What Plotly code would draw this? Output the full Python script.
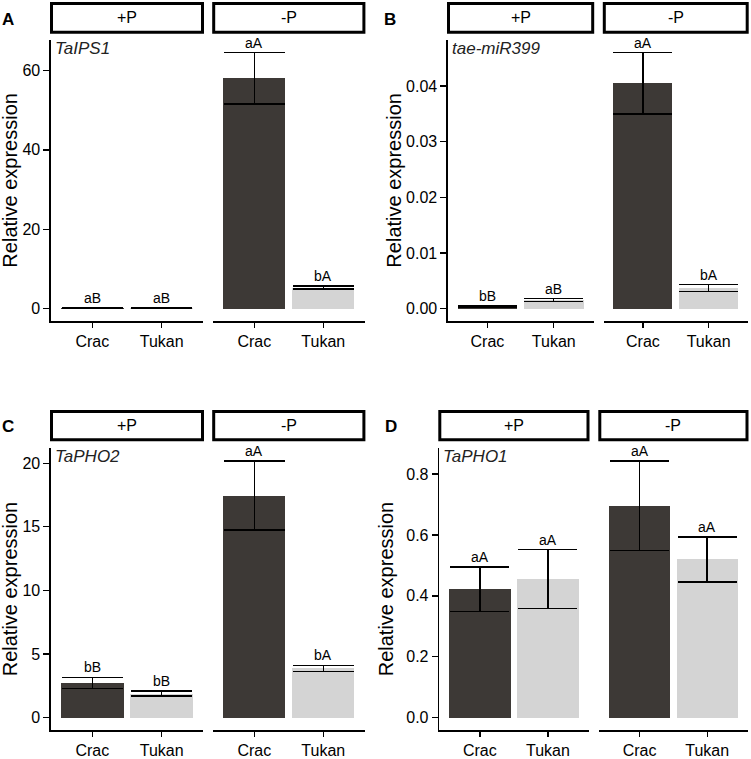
import plotly.graph_objects as go

# ---------------- data ----------------
cultivars = ["Crac", "Tukan"]
conditions = ["+P", "-P"]
genes = ["TaIPS1", "tae-miR399", "TaPHO2", "TaPHO1"]
panel_letters = ["A", "B", "C", "D"]

ips1_plus_mean = [0.10, 0.12]
ips1_plus_sd = [0.03, 0.03]
ips1_plus_lab = ["aB", "aB"]
ips1_minus_mean = [58.0, 5.3]
ips1_minus_sd = [6.5, 0.35]
ips1_minus_lab = ["aA", "bA"]

mir399_plus_mean = [0.0004, 0.00155]
mir399_plus_sd = [0.0001, 0.00025]
mir399_plus_lab = ["bB", "aB"]
mir399_minus_mean = [0.0405, 0.0037]
mir399_minus_sd = [0.0055, 0.0006]
mir399_minus_lab = ["aA", "bA"]

pho2_plus_mean = [2.73, 1.88]
pho2_plus_sd = [0.44, 0.20]
pho2_plus_lab = ["bB", "bB"]
pho2_minus_mean = [17.45, 3.86]
pho2_minus_sd = [2.72, 0.25]
pho2_minus_lab = ["aA", "bA"]

pho1_plus_mean = [0.422, 0.455]
pho1_plus_sd = [0.073, 0.097]
pho1_plus_lab = ["aA", "aA"]
pho1_minus_mean = [0.696, 0.520]
pho1_minus_sd = [0.147, 0.074]
pho1_minus_lab = ["aA", "aA"]

y_ticks = {
    "TaIPS1": [0, 20, 40, 60],
    "tae-miR399": [0.00, 0.01, 0.02, 0.03, 0.04],
    "TaPHO2": [0, 5, 10, 15, 20],
    "TaPHO1": [0.0, 0.2, 0.4, 0.6, 0.8],
}
y_tickfmt = {"TaIPS1": "d", "tae-miR399": ".2f", "TaPHO2": "d", "TaPHO1": ".1f"}

panels = [
    ("TaIPS1", [(ips1_plus_mean, ips1_plus_sd, ips1_plus_lab), (ips1_minus_mean, ips1_minus_sd, ips1_minus_lab)]),
    ("tae-miR399", [(mir399_plus_mean, mir399_plus_sd, mir399_plus_lab), (mir399_minus_mean, mir399_minus_sd, mir399_minus_lab)]),
    ("TaPHO2", [(pho2_plus_mean, pho2_plus_sd, pho2_plus_lab), (pho2_minus_mean, pho2_minus_sd, pho2_minus_lab)]),
    ("TaPHO1", [(pho1_plus_mean, pho1_plus_sd, pho1_plus_lab), (pho1_minus_mean, pho1_minus_sd, pho1_minus_lab)]),
]

bar_colors = ["#3d3936", "#d4d4d4"]

# ---------------- layout geometry (pixels) ----------------
W, H = 751, 759
FONT = "Liberation Sans, Arial, Helvetica, sans-serif"

def fx(px):
    return px / W

def fy(py):
    return 1 - py / H

facet_x = [
    ((50.7, 203.3), (212.9, 364.7)),
    ((447.7, 593.5), (603.5, 748.0)),
    ((50.7, 203.3), (212.9, 364.7)),
    ((439.0, 588.8), (599.0, 747.8)),
]
plot_y = [(40, 322.7), (40, 322.7), (450, 733.3), (450, 733.3)]
strip_y = [(3.5, 32.5), (3.5, 32.5), (413.2, 441.5), (413.2, 441.5)]
letter_pos = [(8, 20), (390, 20), (8, 428), (391, 428)]
ytitle_x = [10, 394, 10, 386]

fig = go.Figure()
layout = dict(
    width=W, height=H,
    margin=dict(l=0, r=0, t=0, b=0),
    paper_bgcolor="white", plot_bgcolor="white",
    showlegend=False, bargap=0,
    font=dict(family=FONT, color="black"),
)
annotations = []
shapes = []

ax = 0
for p, (gene, facets) in enumerate(panels):
    ymax = max(max(m + s for m, s in zip(mean, sd)) for mean, sd, _ in facets)
    yrange = [-0.05 * ymax, 1.05 * ymax]
    for f, (mean, sd, lab) in enumerate(facets):
        ax += 1
        xa = "x" if ax == 1 else f"x{ax}"
        ya = "y" if ax == 1 else f"y{ax}"
        x0, x1 = facet_x[p][f]
        t, b = plot_y[p]
        fig.add_trace(go.Bar(
            x=cultivars, y=mean, width=0.9,
            marker=dict(color=bar_colors, line=dict(width=0)),
            error_y=dict(type="data", array=sd, color="black", thickness=1.5,
                         width=30.5 if p in (0, 2) else 29.5),
            xaxis=xa, yaxis=ya, hoverinfo="skip",
        ))
        layout["xaxis" if ax == 1 else f"xaxis{ax}"] = dict(
            domain=[fx(x0), fx(x1)], anchor=ya, type="category",
            range=[-0.6, 1.6], showline=True, linecolor="black", linewidth=1.3,
            ticks="outside", ticklen=5, tickwidth=1.3, tickcolor="black",
            tickfont=dict(size=16, color="black", family=FONT),
            showgrid=False, zeroline=False, fixedrange=True,
        )
        ydict = dict(
            domain=[fy(b), fy(t)], anchor=xa, range=yrange,
            showgrid=False, zeroline=False, fixedrange=True,
        )
        if f == 0:
            ydict.update(
                showline=True, linecolor="black", linewidth=1.3,
                ticks="outside", ticklen=6, tickwidth=1.3, tickcolor="black",
                tickvals=y_ticks[gene], tickformat=y_tickfmt[gene],
                tickfont=dict(size=16, color="black", family=FONT),
            )
        else:
            ydict.update(showline=False, showticklabels=False, ticks="")
        layout["yaxis" if ax == 1 else f"yaxis{ax}"] = ydict

        for c, m, s, l in zip(cultivars, mean, sd, lab):
            annotations.append(dict(
                x=c, y=m + s, xref=xa, yref=ya, text=l, showarrow=False,
                yanchor="bottom", yshift=0, font=dict(size=14, family=FONT, color="black"),
            ))
        st, sb = strip_y[p]
        shapes.append(dict(
            type="rect", xref="paper", yref="paper",
            x0=fx(x0 + 0.8), x1=fx(x1 - 0.8), y0=fy(sb), y1=fy(st),
            line=dict(color="black", width=3), fillcolor="white",
        ))
        annotations.append(dict(
            x=fx((x0 + x1) / 2), y=fy((st + sb) / 2), xref="paper", yref="paper",
            text=conditions[f], showarrow=False, xanchor="center", yanchor="middle",
            font=dict(size=16, family=FONT, color="black"),
        ))
        if f == 0:
            annotations.append(dict(
                x=0, y=1, xref=f"{xa} domain", yref=f"{ya} domain",
                text=f"<i>{gene}</i>", showarrow=False, xanchor="left", yanchor="top",
                xshift=2, yshift=3, font=dict(size=17, family=FONT, color="#222222"),
            ))
    lx, ly = letter_pos[p]
    annotations.append(dict(
        x=fx(lx), y=fy(ly), xref="paper", yref="paper", text=f"<b>{panel_letters[p]}</b>",
        showarrow=False, xanchor="center", yanchor="middle",
        font=dict(size=17, family=FONT, color="black"),
    ))
    t, b = plot_y[p]
    annotations.append(dict(
        x=fx(ytitle_x[p]), y=fy((t + b) / 2), xref="paper", yref="paper",
        text="Relative expression", textangle=-90, showarrow=False,
        xanchor="center", yanchor="middle",
        font=dict(size=20, family=FONT, color="black"),
    ))

layout["annotations"] = annotations
layout["shapes"] = shapes
fig.update_layout(**layout)
fig.write_html(
    "out.html",
    config={"displayModeBar": False, "staticPlot": True},
    post_script="document.body.style.margin='0';document.body.style.overflow='hidden';",
)
